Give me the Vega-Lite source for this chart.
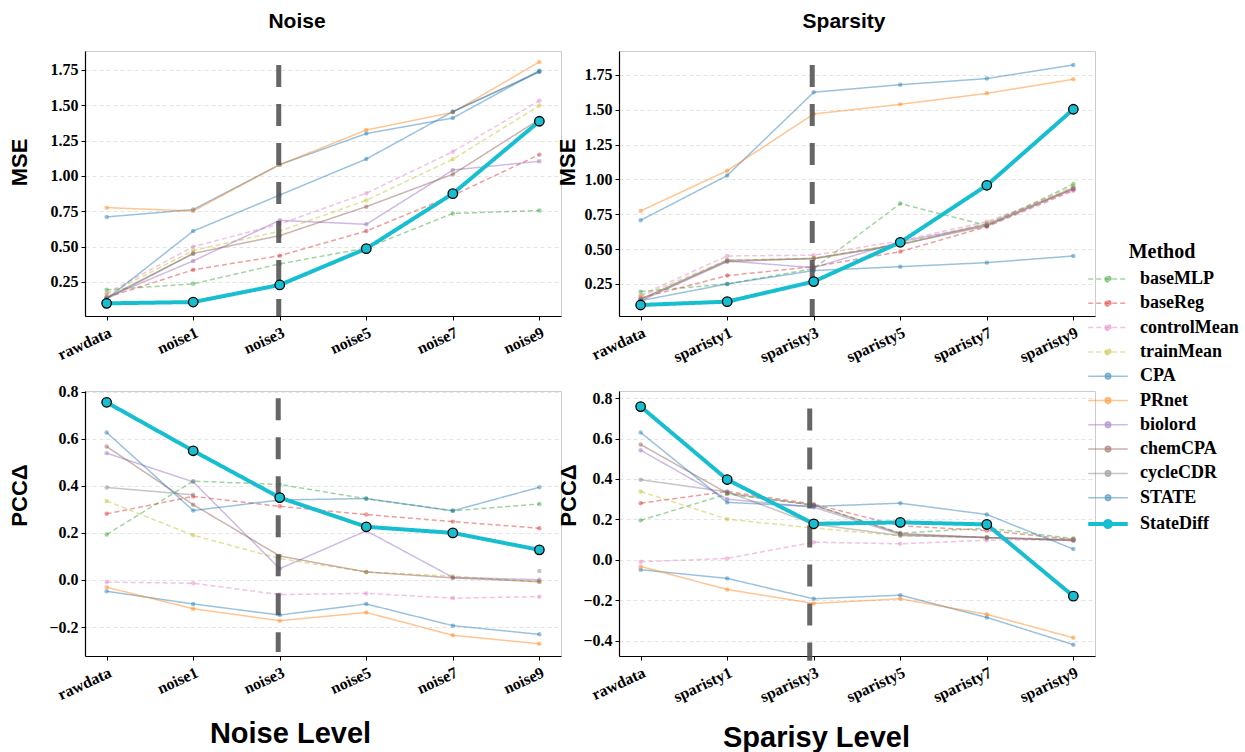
{
"$schema": "https://vega.github.io/schema/vega-lite/v6.json",
"background": "white",
"padding": {"left": 7, "top": 10, "right": 5, "bottom": 5},
"config": {
 "view": {"stroke": "#cccccc", "strokeWidth": 1},
 "font": "Liberation Sans",
 "axis": {"labelFont": "Liberation Serif", "labelFontWeight": "bold", "labelFontSize": 16, "labelColor": "black", "domainColor": "black", "domainWidth": 1.2, "tickColor": "black", "tickSize": 4, "tickWidth": 1, "titleFont": "Liberation Sans", "titleFontWeight": "bold", "titleColor": "black", "titleAlign": "center", "titleBaseline": "middle"},
 "axisX": {"labelAngle": -25, "labelAlign": "right", "labelBaseline": "top", "labelPadding": 4, "grid": false, "titleFontSize": 29},
 "axisY": {"grid": true, "gridColor": "#dddddd", "gridDash": [4, 3], "gridWidth": 0.8, "labelPadding": 3, "titleFontSize": 22},
 "title": {"font": "Liberation Sans", "fontSize": 21, "fontWeight": "bold", "color": "black"},
 "legend": {"orient": "none", "legendX": 1014, "legendY": 191, "titleFont": "Liberation Serif", "titleFontSize": 20, "titleFontWeight": "bold", "titleColor": "black", "labelFont": "Liberation Serif", "labelFontSize": 18, "labelFontWeight": "bold", "labelColor": "black", "labelOffset": 23, "rowPadding": 6.3, "titlePadding": 8, "titleAnchor": "middle"}
},
"data": {"values": [
{"panel":"A","method":"baseMLP","level":"rawdata","value":0.195},{"panel":"A","method":"baseMLP","level":"noise1","value":0.237},{"panel":"A","method":"baseMLP","level":"noise3","value":0.378},{"panel":"A","method":"baseMLP","level":"noise5","value":0.49},{"panel":"A","method":"baseMLP","level":"noise7","value":0.735},{"panel":"A","method":"baseMLP","level":"noise9","value":0.755},
{"panel":"A","method":"baseReg","level":"rawdata","value":0.14},{"panel":"A","method":"baseReg","level":"noise1","value":0.336},{"panel":"A","method":"baseReg","level":"noise3","value":0.436},{"panel":"A","method":"baseReg","level":"noise5","value":0.61},{"panel":"A","method":"baseReg","level":"noise7","value":0.862},{"panel":"A","method":"baseReg","level":"noise9","value":1.151},
{"panel":"A","method":"controlMean","level":"rawdata","value":0.17},{"panel":"A","method":"controlMean","level":"noise1","value":0.5},{"panel":"A","method":"controlMean","level":"noise3","value":0.66},{"panel":"A","method":"controlMean","level":"noise5","value":0.878},{"panel":"A","method":"controlMean","level":"noise7","value":1.172},{"panel":"A","method":"controlMean","level":"noise9","value":1.533},
{"panel":"A","method":"trainMean","level":"rawdata","value":0.16},{"panel":"A","method":"trainMean","level":"noise1","value":0.472},{"panel":"A","method":"trainMean","level":"noise3","value":0.61},{"panel":"A","method":"trainMean","level":"noise5","value":0.828},{"panel":"A","method":"trainMean","level":"noise7","value":1.118},{"panel":"A","method":"trainMean","level":"noise9","value":1.498},
{"panel":"A","method":"CPA","level":"rawdata","value":0.71},{"panel":"A","method":"CPA","level":"noise1","value":0.762},{"panel":"A","method":"CPA","level":"noise3","value":1.08},{"panel":"A","method":"CPA","level":"noise5","value":1.3},{"panel":"A","method":"CPA","level":"noise7","value":1.41},{"panel":"A","method":"CPA","level":"noise9","value":1.745},
{"panel":"A","method":"PRnet","level":"rawdata","value":0.776},{"panel":"A","method":"PRnet","level":"noise1","value":0.752},{"panel":"A","method":"PRnet","level":"noise3","value":1.08},{"panel":"A","method":"PRnet","level":"noise5","value":1.325},{"panel":"A","method":"PRnet","level":"noise7","value":1.45},{"panel":"A","method":"PRnet","level":"noise9","value":1.807},
{"panel":"A","method":"biolord","level":"rawdata","value":0.14},{"panel":"A","method":"biolord","level":"noise1","value":0.399},{"panel":"A","method":"biolord","level":"noise3","value":0.686},{"panel":"A","method":"biolord","level":"noise5","value":0.658},{"panel":"A","method":"biolord","level":"noise7","value":1.042},{"panel":"A","method":"biolord","level":"noise9","value":1.104},
{"panel":"A","method":"chemCPA","level":"rawdata","value":0.13},{"panel":"A","method":"chemCPA","level":"noise1","value":0.452},{"panel":"A","method":"chemCPA","level":"noise3","value":0.578},{"panel":"A","method":"chemCPA","level":"noise5","value":0.783},{"panel":"A","method":"chemCPA","level":"noise7","value":1.012},{"panel":"A","method":"chemCPA","level":"noise9","value":1.4},
{"panel":"A","method":"cycleCDR","level":"rawdata","value":0.14},{"panel":"A","method":"cycleCDR","level":"noise1","value":0.45},{"panel":"A","method":"cycleCDR","level":"noise3","value":null},{"panel":"A","method":"cycleCDR","level":"noise5","value":null},{"panel":"A","method":"cycleCDR","level":"noise7","value":1.455},{"panel":"A","method":"cycleCDR","level":"noise9","value":1.74},
{"panel":"A","method":"STATE","level":"rawdata","value":0.13},{"panel":"A","method":"STATE","level":"noise1","value":0.61},{"panel":"A","method":"STATE","level":"noise3","value":0.865},{"panel":"A","method":"STATE","level":"noise5","value":1.12},{"panel":"A","method":"STATE","level":"noise7","value":1.455},{"panel":"A","method":"STATE","level":"noise9","value":1.735},
{"panel":"A","method":"StateDiff","level":"rawdata","value":0.099},{"panel":"A","method":"StateDiff","level":"noise1","value":0.108},{"panel":"A","method":"StateDiff","level":"noise3","value":0.229},{"panel":"A","method":"StateDiff","level":"noise5","value":0.486},{"panel":"A","method":"StateDiff","level":"noise7","value":0.875},{"panel":"A","method":"StateDiff","level":"noise9","value":1.387},
{"panel":"B","method":"baseMLP","level":"rawdata","value":0.195},{"panel":"B","method":"baseMLP","level":"sparisty1","value":0.25},{"panel":"B","method":"baseMLP","level":"sparisty3","value":0.36},{"panel":"B","method":"baseMLP","level":"sparisty5","value":0.827},{"panel":"B","method":"baseMLP","level":"sparisty7","value":0.669},{"panel":"B","method":"baseMLP","level":"sparisty9","value":0.967},
{"panel":"B","method":"baseReg","level":"rawdata","value":0.15},{"panel":"B","method":"baseReg","level":"sparisty1","value":0.31},{"panel":"B","method":"baseReg","level":"sparisty3","value":0.374},{"panel":"B","method":"baseReg","level":"sparisty5","value":0.482},{"panel":"B","method":"baseReg","level":"sparisty7","value":0.661},{"panel":"B","method":"baseReg","level":"sparisty9","value":0.92},
{"panel":"B","method":"controlMean","level":"rawdata","value":0.17},{"panel":"B","method":"controlMean","level":"sparisty1","value":0.451},{"panel":"B","method":"controlMean","level":"sparisty3","value":0.456},{"panel":"B","method":"controlMean","level":"sparisty5","value":0.56},{"panel":"B","method":"controlMean","level":"sparisty7","value":0.697},{"panel":"B","method":"controlMean","level":"sparisty9","value":0.93},
{"panel":"B","method":"trainMean","level":"rawdata","value":0.16},{"panel":"B","method":"trainMean","level":"sparisty1","value":0.422},{"panel":"B","method":"trainMean","level":"sparisty3","value":0.434},{"panel":"B","method":"trainMean","level":"sparisty5","value":0.54},{"panel":"B","method":"trainMean","level":"sparisty7","value":0.685},{"panel":"B","method":"trainMean","level":"sparisty9","value":0.95},
{"panel":"B","method":"CPA","level":"rawdata","value":0.707},{"panel":"B","method":"CPA","level":"sparisty1","value":1.028},{"panel":"B","method":"CPA","level":"sparisty3","value":1.626},{"panel":"B","method":"CPA","level":"sparisty5","value":1.68},{"panel":"B","method":"CPA","level":"sparisty7","value":1.724},{"panel":"B","method":"CPA","level":"sparisty9","value":1.822},
{"panel":"B","method":"PRnet","level":"rawdata","value":0.774},{"panel":"B","method":"PRnet","level":"sparisty1","value":1.063},{"panel":"B","method":"PRnet","level":"sparisty3","value":1.47},{"panel":"B","method":"PRnet","level":"sparisty5","value":1.539},{"panel":"B","method":"PRnet","level":"sparisty7","value":1.618},{"panel":"B","method":"PRnet","level":"sparisty9","value":1.719},
{"panel":"B","method":"biolord","level":"rawdata","value":0.14},{"panel":"B","method":"biolord","level":"sparisty1","value":0.415},{"panel":"B","method":"biolord","level":"sparisty3","value":0.367},{"panel":"B","method":"biolord","level":"sparisty5","value":0.554},{"panel":"B","method":"biolord","level":"sparisty7","value":0.672},{"panel":"B","method":"biolord","level":"sparisty9","value":0.93},
{"panel":"B","method":"chemCPA","level":"rawdata","value":0.13},{"panel":"B","method":"chemCPA","level":"sparisty1","value":0.41},{"panel":"B","method":"chemCPA","level":"sparisty3","value":0.434},{"panel":"B","method":"chemCPA","level":"sparisty5","value":0.535},{"panel":"B","method":"chemCPA","level":"sparisty7","value":0.666},{"panel":"B","method":"chemCPA","level":"sparisty9","value":0.935},
{"panel":"B","method":"cycleCDR","level":"rawdata","value":0.14},{"panel":"B","method":"cycleCDR","level":"sparisty1","value":0.42},{"panel":"B","method":"cycleCDR","level":"sparisty3","value":0.43},{"panel":"B","method":"cycleCDR","level":"sparisty5","value":0.53},{"panel":"B","method":"cycleCDR","level":"sparisty7","value":0.68},{"panel":"B","method":"cycleCDR","level":"sparisty9","value":0.94},
{"panel":"B","method":"STATE","level":"rawdata","value":0.13},{"panel":"B","method":"STATE","level":"sparisty1","value":0.25},{"panel":"B","method":"STATE","level":"sparisty3","value":0.346},{"panel":"B","method":"STATE","level":"sparisty5","value":0.374},{"panel":"B","method":"STATE","level":"sparisty7","value":0.403},{"panel":"B","method":"STATE","level":"sparisty9","value":0.451},
{"panel":"B","method":"StateDiff","level":"rawdata","value":0.099},{"panel":"B","method":"StateDiff","level":"sparisty1","value":0.123},{"panel":"B","method":"StateDiff","level":"sparisty3","value":0.267},{"panel":"B","method":"StateDiff","level":"sparisty5","value":0.549},{"panel":"B","method":"StateDiff","level":"sparisty7","value":0.958},{"panel":"B","method":"StateDiff","level":"sparisty9","value":1.504},
{"panel":"C","method":"baseMLP","level":"rawdata","value":0.193},{"panel":"C","method":"baseMLP","level":"noise1","value":0.42},{"panel":"C","method":"baseMLP","level":"noise3","value":0.406},{"panel":"C","method":"baseMLP","level":"noise5","value":0.345},{"panel":"C","method":"baseMLP","level":"noise7","value":0.294},{"panel":"C","method":"baseMLP","level":"noise9","value":0.323},
{"panel":"C","method":"baseReg","level":"rawdata","value":0.281},{"panel":"C","method":"baseReg","level":"noise1","value":0.355},{"panel":"C","method":"baseReg","level":"noise3","value":0.313},{"panel":"C","method":"baseReg","level":"noise5","value":0.278},{"panel":"C","method":"baseReg","level":"noise7","value":0.248},{"panel":"C","method":"baseReg","level":"noise9","value":0.22},
{"panel":"C","method":"controlMean","level":"rawdata","value":-0.009},{"panel":"C","method":"controlMean","level":"noise1","value":-0.014},{"panel":"C","method":"controlMean","level":"noise3","value":-0.062},{"panel":"C","method":"controlMean","level":"noise5","value":-0.057},{"panel":"C","method":"controlMean","level":"noise7","value":-0.077},{"panel":"C","method":"controlMean","level":"noise9","value":-0.071},
{"panel":"C","method":"trainMean","level":"rawdata","value":0.336},{"panel":"C","method":"trainMean","level":"noise1","value":0.19},{"panel":"C","method":"trainMean","level":"noise3","value":0.091},{"panel":"C","method":"trainMean","level":"noise5","value":0.034},{"panel":"C","method":"trainMean","level":"noise7","value":0.016},{"panel":"C","method":"trainMean","level":"noise9","value":-0.009},
{"panel":"C","method":"CPA","level":"rawdata","value":-0.048},{"panel":"C","method":"CPA","level":"noise1","value":-0.102},{"panel":"C","method":"CPA","level":"noise3","value":-0.149},{"panel":"C","method":"CPA","level":"noise5","value":-0.102},{"panel":"C","method":"CPA","level":"noise7","value":-0.194},{"panel":"C","method":"CPA","level":"noise9","value":-0.231},
{"panel":"C","method":"PRnet","level":"rawdata","value":-0.031},{"panel":"C","method":"PRnet","level":"noise1","value":-0.122},{"panel":"C","method":"PRnet","level":"noise3","value":-0.173},{"panel":"C","method":"PRnet","level":"noise5","value":-0.138},{"panel":"C","method":"PRnet","level":"noise7","value":-0.235},{"panel":"C","method":"PRnet","level":"noise9","value":-0.271},
{"panel":"C","method":"biolord","level":"rawdata","value":0.539},{"panel":"C","method":"biolord","level":"noise1","value":0.417},{"panel":"C","method":"biolord","level":"noise3","value":0.048},{"panel":"C","method":"biolord","level":"noise5","value":0.209},{"panel":"C","method":"biolord","level":"noise7","value":0.011},{"panel":"C","method":"biolord","level":"noise9","value":0.001},
{"panel":"C","method":"chemCPA","level":"rawdata","value":0.567},{"panel":"C","method":"chemCPA","level":"noise1","value":0.32},{"panel":"C","method":"chemCPA","level":"noise3","value":0.102},{"panel":"C","method":"chemCPA","level":"noise5","value":0.034},{"panel":"C","method":"chemCPA","level":"noise7","value":0.009},{"panel":"C","method":"chemCPA","level":"noise9","value":-0.007},
{"panel":"C","method":"cycleCDR","level":"rawdata","value":0.393},{"panel":"C","method":"cycleCDR","level":"noise1","value":0.362},{"panel":"C","method":"cycleCDR","level":"noise3","value":null},{"panel":"C","method":"cycleCDR","level":"noise5","value":null},{"panel":"C","method":"cycleCDR","level":"noise7","value":null},{"panel":"C","method":"cycleCDR","level":"noise9","value":0.038},
{"panel":"C","method":"STATE","level":"rawdata","value":0.627},{"panel":"C","method":"STATE","level":"noise1","value":0.295},{"panel":"C","method":"STATE","level":"noise3","value":0.34},{"panel":"C","method":"STATE","level":"noise5","value":0.346},{"panel":"C","method":"STATE","level":"noise7","value":0.294},{"panel":"C","method":"STATE","level":"noise9","value":0.394},
{"panel":"C","method":"StateDiff","level":"rawdata","value":0.755},{"panel":"C","method":"StateDiff","level":"noise1","value":0.549},{"panel":"C","method":"StateDiff","level":"noise3","value":0.35},{"panel":"C","method":"StateDiff","level":"noise5","value":0.226},{"panel":"C","method":"StateDiff","level":"noise7","value":0.2},{"panel":"C","method":"StateDiff","level":"noise9","value":0.128},
{"panel":"D","method":"baseMLP","level":"rawdata","value":0.195},{"panel":"D","method":"baseMLP","level":"sparisty1","value":0.325},{"panel":"D","method":"baseMLP","level":"sparisty3","value":0.27},{"panel":"D","method":"baseMLP","level":"sparisty5","value":0.132},{"panel":"D","method":"baseMLP","level":"sparisty7","value":0.157},{"panel":"D","method":"baseMLP","level":"sparisty9","value":0.105},
{"panel":"D","method":"baseReg","level":"rawdata","value":0.28},{"panel":"D","method":"baseReg","level":"sparisty1","value":0.338},{"panel":"D","method":"baseReg","level":"sparisty3","value":0.275},{"panel":"D","method":"baseReg","level":"sparisty5","value":0.168},{"panel":"D","method":"baseReg","level":"sparisty7","value":0.145},{"panel":"D","method":"baseReg","level":"sparisty9","value":0.1},
{"panel":"D","method":"controlMean","level":"rawdata","value":-0.01},{"panel":"D","method":"controlMean","level":"sparisty1","value":0.007},{"panel":"D","method":"controlMean","level":"sparisty3","value":0.087},{"panel":"D","method":"controlMean","level":"sparisty5","value":0.079},{"panel":"D","method":"controlMean","level":"sparisty7","value":0.097},{"panel":"D","method":"controlMean","level":"sparisty9","value":0.1},
{"panel":"D","method":"trainMean","level":"rawdata","value":0.338},{"panel":"D","method":"trainMean","level":"sparisty1","value":0.201},{"panel":"D","method":"trainMean","level":"sparisty3","value":0.157},{"panel":"D","method":"trainMean","level":"sparisty5","value":0.119},{"panel":"D","method":"trainMean","level":"sparisty7","value":0.11},{"panel":"D","method":"trainMean","level":"sparisty9","value":0.1},
{"panel":"D","method":"CPA","level":"rawdata","value":-0.049},{"panel":"D","method":"CPA","level":"sparisty1","value":-0.092},{"panel":"D","method":"CPA","level":"sparisty3","value":-0.193},{"panel":"D","method":"CPA","level":"sparisty5","value":-0.175},{"panel":"D","method":"CPA","level":"sparisty7","value":-0.285},{"panel":"D","method":"CPA","level":"sparisty9","value":-0.42},
{"panel":"D","method":"PRnet","level":"rawdata","value":-0.033},{"panel":"D","method":"PRnet","level":"sparisty1","value":-0.147},{"panel":"D","method":"PRnet","level":"sparisty3","value":-0.216},{"panel":"D","method":"PRnet","level":"sparisty5","value":-0.193},{"panel":"D","method":"PRnet","level":"sparisty7","value":-0.27},{"panel":"D","method":"PRnet","level":"sparisty9","value":-0.386},
{"panel":"D","method":"biolord","level":"rawdata","value":0.542},{"panel":"D","method":"biolord","level":"sparisty1","value":0.3},{"panel":"D","method":"biolord","level":"sparisty3","value":0.26},{"panel":"D","method":"biolord","level":"sparisty5","value":0.125},{"panel":"D","method":"biolord","level":"sparisty7","value":0.11},{"panel":"D","method":"biolord","level":"sparisty9","value":0.095},
{"panel":"D","method":"chemCPA","level":"rawdata","value":0.57},{"panel":"D","method":"chemCPA","level":"sparisty1","value":0.33},{"panel":"D","method":"chemCPA","level":"sparisty3","value":0.27},{"panel":"D","method":"chemCPA","level":"sparisty5","value":0.13},{"panel":"D","method":"chemCPA","level":"sparisty7","value":0.11},{"panel":"D","method":"chemCPA","level":"sparisty9","value":0.095},
{"panel":"D","method":"cycleCDR","level":"rawdata","value":0.396},{"panel":"D","method":"cycleCDR","level":"sparisty1","value":0.336},{"panel":"D","method":"cycleCDR","level":"sparisty3","value":0.176},{"panel":"D","method":"cycleCDR","level":"sparisty5","value":0.12},{"panel":"D","method":"cycleCDR","level":"sparisty7","value":0.11},{"panel":"D","method":"cycleCDR","level":"sparisty9","value":0.1},
{"panel":"D","method":"STATE","level":"rawdata","value":0.63},{"panel":"D","method":"STATE","level":"sparisty1","value":0.284},{"panel":"D","method":"STATE","level":"sparisty3","value":0.264},{"panel":"D","method":"STATE","level":"sparisty5","value":0.28},{"panel":"D","method":"STATE","level":"sparisty7","value":0.224},{"panel":"D","method":"STATE","level":"sparisty9","value":0.053},
{"panel":"D","method":"StateDiff","level":"rawdata","value":0.758},{"panel":"D","method":"StateDiff","level":"sparisty1","value":0.397},{"panel":"D","method":"StateDiff","level":"sparisty3","value":0.178},{"panel":"D","method":"StateDiff","level":"sparisty5","value":0.185},{"panel":"D","method":"StateDiff","level":"sparisty7","value":0.175},{"panel":"D","method":"StateDiff","level":"sparisty9","value":-0.18}
]},
"columns": 2,
"spacing": {"row": 75, "column": 58},
"bounds": "flush",
"resolve": {"scale": {"color": "shared", "strokeDash": "shared", "x": "independent", "y": "independent"}},
"concat": [
 {
  "width": 476, "height": 265,
  "title": {"text": "Noise", "offset": 19, "dx": -26},
  "encoding": {
   "x": {"field": "level", "type": "ordinal", "scale": {"type": "point", "domain": ["rawdata","noise1","noise3","noise5","noise7","noise9"], "padding": 0.25}, "axis": {"title": null}},
   "y": {"field": "value", "type": "quantitative", "scale": {"domain": [0.0094, 1.884], "nice": false, "zero": false}, "axis": {"values": [0.25,0.5,0.75,1,1.25,1.5,1.75], "format": ".2f", "title": "MSE", "titleX": -66, "titleY": 111}}
  },
  "layer": [
   {"transform": [{"filter": "datum.panel === 'A' && datum.method !== 'StateDiff'"}], "mark": {"type": "line", "strokeWidth": 1.5, "invalid": "break-paths-filter-domains"},
    "encoding": {
     "color": {"field": "method", "type": "nominal", "title": "Method", "scale": {"domain": ["baseMLP","baseReg","controlMean","trainMean","CPA","PRnet","biolord","chemCPA","cycleCDR","STATE","StateDiff"], "range": ["rgba(44,160,44,0.45)","rgba(214,39,40,0.45)","rgba(227,119,194,0.45)","rgba(188,189,34,0.45)","rgba(31,119,180,0.45)","rgba(255,127,14,0.45)","rgba(148,103,189,0.45)","rgba(140,86,75,0.45)","rgba(127,127,127,0.45)","rgba(31,119,180,0.45)","#17becf"]}, "legend": {"symbolType": "M-2.2,0H2.2M-0.33,0a0.33,0.33 0 1,0 0.66,0a0.33,0.33 0 1,0 -0.66,0", "symbolSize": 324, "encode": {"title": {"update": {"dx": {"value": -7}}}, "symbols": {"update": {"fill": {"scale": "color", "field": "value"}, "strokeWidth": {"signal": "datum.value === 'StateDiff' ? 4 : 1.5"}, "opacity": {"value": 1}}}}}},
     "strokeDash": {"field": "method", "type": "nominal", "title": "Method", "scale": {"domain": ["baseMLP","baseReg","controlMean","trainMean","CPA","PRnet","biolord","chemCPA","cycleCDR","STATE","StateDiff"], "range": [[5,3],[5,3],[5,3],[5,3],[1,0],[1,0],[1,0],[1,0],[1,0],[1,0],[1,0]]}}
    }},
   {"transform": [{"filter": "datum.panel === 'A' && datum.method !== 'StateDiff'"}], "mark": {"type": "point", "filled": true, "size": 20, "strokeWidth": 0, "opacity": 1},
    "encoding": {"color": {"field": "method", "type": "nominal", "title": "Method"}}},
   {"transform": [{"filter": "datum.panel === 'A' && datum.method === 'StateDiff' && datum.level === 'rawdata'"}], "mark": {"type": "rule", "color": "#555555", "opacity": 0.9, "strokeWidth": 5, "strokeDash": [22, 17], "xOffset": -1},
    "encoding": {"x": {"datum": "noise3"}, "y": {"datum": 1.785}, "y2": {"datum": 0.0094}}},
   {"transform": [{"filter": "datum.panel === 'A' && datum.method === 'StateDiff'"}], "mark": {"type": "line", "strokeWidth": 4},
    "encoding": {"color": {"field": "method", "type": "nominal", "title": "Method"}, "strokeDash": {"field": "method", "type": "nominal", "title": "Method"}}},
   {"transform": [{"filter": "datum.panel === 'A' && datum.method === 'StateDiff'"}], "mark": {"type": "point", "filled": true, "size": 90, "stroke": "black", "strokeWidth": 1.3, "opacity": 1},
    "encoding": {"color": {"field": "method", "type": "nominal", "title": "Method"}}}
  ]
 },
 {
  "width": 476, "height": 265,
  "title": {"text": "Sparsity", "offset": 19, "dx": -13},
  "encoding": {
   "x": {"field": "level", "type": "ordinal", "scale": {"type": "point", "domain": ["rawdata","sparisty1","sparisty3","sparisty5","sparisty7","sparisty9"], "padding": 0.25}, "axis": {"title": null}},
   "y": {"field": "value", "type": "quantitative", "scale": {"domain": [0.02, 1.922], "nice": false, "zero": false}, "axis": {"values": [0.25,0.5,0.75,1,1.25,1.5,1.75], "format": ".2f", "title": "MSE", "titleX": -52, "titleY": 111}}
  },
  "layer": [
   {"transform": [{"filter": "datum.panel === 'B' && datum.method !== 'StateDiff'"}], "mark": {"type": "line", "strokeWidth": 1.5, "invalid": "break-paths-filter-domains"},
    "encoding": {"color": {"field": "method", "type": "nominal", "title": "Method"}, "strokeDash": {"field": "method", "type": "nominal", "title": "Method"}}},
   {"transform": [{"filter": "datum.panel === 'B' && datum.method !== 'StateDiff'"}], "mark": {"type": "point", "filled": true, "size": 20, "strokeWidth": 0, "opacity": 1},
    "encoding": {"color": {"field": "method", "type": "nominal", "title": "Method"}}},
   {"transform": [{"filter": "datum.panel === 'B' && datum.method === 'StateDiff' && datum.level === 'rawdata'"}], "mark": {"type": "rule", "color": "#555555", "opacity": 0.9, "strokeWidth": 5, "strokeDash": [22, 17], "xOffset": -1.5},
    "encoding": {"x": {"datum": "sparisty3"}, "y": {"datum": 1.822}, "y2": {"datum": 0.02}}},
   {"transform": [{"filter": "datum.panel === 'B' && datum.method === 'StateDiff'"}], "mark": {"type": "line", "strokeWidth": 4},
    "encoding": {"color": {"field": "method", "type": "nominal", "title": "Method"}, "strokeDash": {"field": "method", "type": "nominal", "title": "Method"}}},
   {"transform": [{"filter": "datum.panel === 'B' && datum.method === 'StateDiff'"}], "mark": {"type": "point", "filled": true, "size": 90, "stroke": "black", "strokeWidth": 1.3, "opacity": 1},
    "encoding": {"color": {"field": "method", "type": "nominal", "title": "Method"}}}
  ]
 },
 {
  "width": 476, "height": 265,
  "encoding": {
   "x": {"field": "level", "type": "ordinal", "scale": {"type": "point", "domain": ["rawdata","noise1","noise3","noise5","noise7","noise9"], "padding": 0.25}, "axis": {"title": "Noise Level", "titleX": 205, "titleY": 77}},
   "y": {"field": "value", "type": "quantitative", "scale": {"domain": [-0.323, 0.803], "nice": false, "zero": false}, "axis": {"values": [-0.2,0,0.2,0.4,0.6,0.8], "format": ".1f", "title": "PCCΔ", "titleX": -66, "titleY": 104}}
  },
  "layer": [
   {"transform": [{"filter": "datum.panel === 'C' && datum.method !== 'StateDiff'"}], "mark": {"type": "line", "strokeWidth": 1.5, "invalid": "break-paths-filter-domains"},
    "encoding": {"color": {"field": "method", "type": "nominal", "title": "Method"}, "strokeDash": {"field": "method", "type": "nominal", "title": "Method"}}},
   {"transform": [{"filter": "datum.panel === 'C' && datum.method !== 'StateDiff'"}], "mark": {"type": "point", "filled": true, "size": 20, "strokeWidth": 0, "opacity": 1},
    "encoding": {"color": {"field": "method", "type": "nominal", "title": "Method"}}},
   {"transform": [{"filter": "datum.panel === 'C' && datum.method === 'StateDiff' && datum.level === 'rawdata'"}], "mark": {"type": "rule", "color": "#555555", "opacity": 0.9, "strokeWidth": 5, "strokeDash": [22, 17], "xOffset": -1.5},
    "encoding": {"x": {"datum": "noise3"}, "y": {"datum": 0.772}, "y2": {"datum": -0.306}}},
   {"transform": [{"filter": "datum.panel === 'C' && datum.method === 'StateDiff'"}], "mark": {"type": "line", "strokeWidth": 4},
    "encoding": {"color": {"field": "method", "type": "nominal", "title": "Method"}, "strokeDash": {"field": "method", "type": "nominal", "title": "Method"}}},
   {"transform": [{"filter": "datum.panel === 'C' && datum.method === 'StateDiff'"}], "mark": {"type": "point", "filled": true, "size": 90, "stroke": "black", "strokeWidth": 1.3, "opacity": 1},
    "encoding": {"color": {"field": "method", "type": "nominal", "title": "Method"}}}
  ]
 },
 {
  "width": 476, "height": 265,
  "encoding": {
   "x": {"field": "level", "type": "ordinal", "scale": {"type": "point", "domain": ["rawdata","sparisty1","sparisty3","sparisty5","sparisty7","sparisty9"], "padding": 0.25}, "axis": {"title": "Sparisy Level", "titleX": 197, "titleY": 81}},
   "y": {"field": "value", "type": "quantitative", "scale": {"domain": [-0.476, 0.835], "nice": false, "zero": false}, "axis": {"values": [-0.4,-0.2,0,0.2,0.4,0.6,0.8], "format": ".1f", "title": "PCCΔ", "titleX": -51, "titleY": 104}}
  },
  "layer": [
   {"transform": [{"filter": "datum.panel === 'D' && datum.method !== 'StateDiff'"}], "mark": {"type": "line", "strokeWidth": 1.5, "invalid": "break-paths-filter-domains"},
    "encoding": {"color": {"field": "method", "type": "nominal", "title": "Method"}, "strokeDash": {"field": "method", "type": "nominal", "title": "Method"}}},
   {"transform": [{"filter": "datum.panel === 'D' && datum.method !== 'StateDiff'"}], "mark": {"type": "point", "filled": true, "size": 20, "strokeWidth": 0, "opacity": 1},
    "encoding": {"color": {"field": "method", "type": "nominal", "title": "Method"}}},
   {"transform": [{"filter": "datum.panel === 'D' && datum.method === 'StateDiff' && datum.level === 'rawdata'"}], "mark": {"type": "rule", "color": "#555555", "opacity": 0.9, "strokeWidth": 5, "strokeDash": [22, 17], "xOffset": -4},
    "encoding": {"x": {"datum": "sparisty3"}, "y": {"datum": 0.749}, "y2": {"datum": -0.5}}},
   {"transform": [{"filter": "datum.panel === 'D' && datum.method === 'StateDiff'"}], "mark": {"type": "line", "strokeWidth": 4},
    "encoding": {"color": {"field": "method", "type": "nominal", "title": "Method"}, "strokeDash": {"field": "method", "type": "nominal", "title": "Method"}}},
   {"transform": [{"filter": "datum.panel === 'D' && datum.method === 'StateDiff'"}], "mark": {"type": "point", "filled": true, "size": 90, "stroke": "black", "strokeWidth": 1.3, "opacity": 1},
    "encoding": {"color": {"field": "method", "type": "nominal", "title": "Method"}}}
  ]
 }
]
}
